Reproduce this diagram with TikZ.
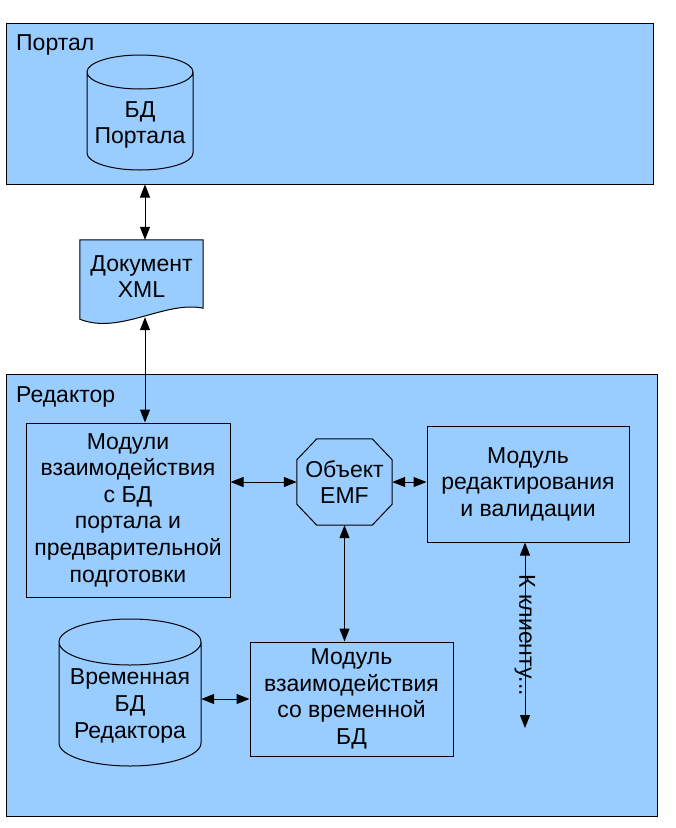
\documentclass[tikz,border=0pt]{standalone}
\usepackage{fontspec}
\setmainfont{Liberation Sans}
\usetikzlibrary{arrows.meta}
\definecolor{paneblue}{HTML}{99CCFF}

\begin{document}
\begin{tikzpicture}[x=1pt,y=-1pt,
  font=\fontsize{23}{26.6}\selectfont,
  >={Triangle[length=13pt,width=10pt]},
  pane/.style={rectangle,draw=black,fill=paneblue,line width=1pt,inner sep=0pt},
  box/.style={rectangle,draw=black,fill=paneblue,line width=1pt,align=center,inner sep=0pt},
  dbtext/.style={rectangle,align=center,inner sep=0pt},
  outline/.style={draw=black,line width=1pt},
  link/.style={<->,line width=1pt}]
  \useasboundingbox (0,0) rectangle (676,828);
  % frames
  \node[pane,minimum width=647,minimum height=161] (portal) at (329.5,103.5) {};
  \node[pane,minimum width=651,minimum height=442] (editor) at (331.5,595) {};
  \node[anchor=base west,inner sep=0pt] (portaltitle) at (16,50) {Портал};
  \node[anchor=base west,inner sep=0pt] (editortitle) at (16,402) {Редактор};
  % portal db
  \node[dbtext,minimum width=106] (portaldb) at (140,125) {БД\\Портала};
  \draw[outline] ([shift={(-53pt,53pt)}]portaldb.center) -- ([shift={(-53pt,-28pt)}]portaldb.center)
    arc[start angle=180,end angle=360,x radius=53pt,y radius=17pt]
    -- ([shift={(53pt,53pt)}]portaldb.center)
    arc[start angle=0,end angle=360,x radius=53pt,y radius=17pt];
  % document
  \node[rectangle,minimum width=123,minimum height=85] (doc) at (141.5,282.5) {};
  \path[draw=black,fill=paneblue,line width=1pt] (doc.north west) -- (doc.north east)
    -- ([yshift=17pt]doc.south east)
    .. controls ([xshift=-38pt,yshift=25pt]doc.south east) and ([xshift=40pt,yshift=-10pt]doc.south west)
    .. ([yshift=6pt]doc.south west) -- cycle;
  \node[align=center,inner sep=0pt] (doctext) at (141.5,276.5) {Документ\\XML};
  % editor
  \node[box,minimum width=204,minimum height=174] (mods) at (128,510) {Модули\\взаимодействия\\с БД\\портала и\\предварительной\\подготовки};
  \node[rectangle,align=center,inner sep=0pt,minimum width=95,minimum height=86] (emf) at (344.5,482) {Объект\\EMF};
  \draw[outline] ([xshift=20pt]emf.north west) -- ([xshift=-20pt]emf.north east)
    -- ([yshift=-21pt]emf.north east) -- ([yshift=21pt]emf.south east)
    -- ([xshift=-20pt]emf.south east) -- ([xshift=20pt]emf.south west)
    -- ([yshift=21pt]emf.south west) -- ([yshift=-21pt]emf.north west) -- cycle;
  \node[box,minimum width=202,minimum height=116] (edit) at (528,484) {Модуль\\редактирования\\и валидации};
  \node[box,minimum width=203,minimum height=114] (tmpmod) at (351.5,699) {Модуль\\взаимодействия\\со временной\\БД};
  \node[dbtext,minimum width=142] (tmpdb) at (130,706) {Временная\\БД\\Редактора};
  \draw[outline] ([shift={(-71pt,64pt)}]tmpdb.center) -- ([shift={(-71pt,-37pt)}]tmpdb.center)
    arc[start angle=180,end angle=360,x radius=71pt,y radius=23pt]
    -- ([shift={(71pt,64pt)}]tmpdb.center)
    arc[start angle=0,end angle=360,x radius=71pt,y radius=23pt];
  \coordinate (client) at (525,728);
  % links
  \coordinate (doct) at ([xshift=3.5pt]doc.north);
  \coordinate (docb) at ([xshift=3.5pt,yshift=8pt]doc.south);
  \draw[link] (doct |- portal.south) -- (doct);
  \draw[link] (docb) -- (docb |- mods.north);
  \draw[link] (emf.west -| mods.east) -- (emf.west);
  \draw[link] (emf.east) -- (emf.east -| edit.west);
  \draw[link] (emf.south) -- (emf.south |- tmpmod.north);
  \draw[link] (tmpmod.west -| tmpdb.east) -- (tmpmod.west);
  \draw[link] (client |- edit.south) -- (client) node[midway,rotate=-90] (clientlabel) {К клиенту...};
\end{tikzpicture}
\end{document}
